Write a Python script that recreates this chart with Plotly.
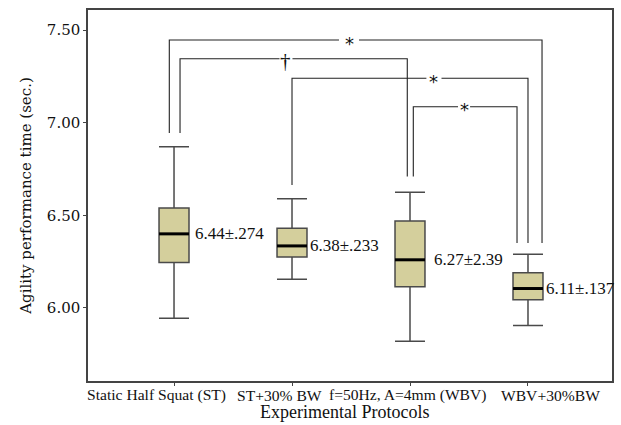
import plotly.graph_objects as go

categories = ["Static Half Squat (ST)", "ST+30% BW", "f=50Hz, A=4mm (WBV)", "WBV+30%BW"]
q1 = [6.245, 6.275, 6.115, 6.045]
median = [6.40, 6.335, 6.26, 6.105]
q3 = [6.54, 6.43, 6.47, 6.19]
lower = [5.945, 6.155, 5.82, 5.905]
upper = [6.87, 6.59, 6.625, 6.29]
labels = ["6.44±.274", "6.38±.233", "6.27±2.39", "6.11±.137"]
label_gap_px = [4, 1, 7, 1]
tick_label_shift_px = [-18, -13, -3, 23]

# significance comparisons
comp_from = [0, 0, 1, 2]
comp_to = [3, 2, 3, 3]
comp_level = [7.446, 7.345, 7.240, 7.086]
comp_symbol = ["*", "†", "*", "*"]
comp_sym_x = [1.483, 0.949, 2.203, 2.458]
comp_gap = [0.085, 0.055, 0.064, 0.051]
comp_left_off = [-0.04, 0.051, 0.0, 0.028]
comp_right_off = [0.119, -0.023, 0.0, -0.093]
comp_left_end = [6.944, 6.944, 6.664, 6.709]
comp_right_end = [6.351, 6.709, 6.351, 6.351]

xs = list(range(len(categories)))
box_w = 0.254

fig = go.Figure()
fig.add_trace(go.Box(
    x=xs, q1=q1, median=median, q3=q3, lowerfence=lower, upperfence=upper,
    width=box_w, whiskerwidth=1,
    fillcolor="#d4cf9c", line=dict(color="#4a4a4a", width=1.5),
    showlegend=False, hoverinfo="skip",
))
for i in xs:
    fig.add_shape(type="line", x0=i - box_w / 2, x1=i + box_w / 2, y0=median[i], y1=median[i],
                  line=dict(color="black", width=3))
    fig.add_annotation(x=i + box_w / 2, y=median[i], text=labels[i], showarrow=False,
                       xanchor="left", yanchor="middle", xshift=label_gap_px[i],
                       font=dict(family="Liberation Serif", size=17, color="#111111"))
    fig.add_annotation(x=i, xref="x", y=0, yref="paper", text=categories[i], showarrow=False,
                       xanchor="center", yanchor="middle", xshift=tick_label_shift_px[i], yshift=-14,
                       font=dict(family="Liberation Serif", size=15.6, color="#111111"))

fig.add_annotation(x=0.5, xref="paper", y=0, yref="paper", text="Experimental Protocols",
                   showarrow=False, xanchor="center", yanchor="middle", xshift=-6, yshift=-31,
                   font=dict(family="Liberation Serif", size=18, color="#111111"))

for k in range(len(comp_from)):
    xl = comp_from[k] + comp_left_off[k]
    xr = comp_to[k] + comp_right_off[k]
    y = comp_level[k]
    g = comp_gap[k]
    fig.add_trace(go.Scatter(
        x=[xl, xl, comp_sym_x[k] - g, None, comp_sym_x[k] + g, xr, xr],
        y=[comp_left_end[k], y, y, None, y, y, comp_right_end[k]],
        mode="lines", line=dict(color="#222222", width=1.1),
        showlegend=False, hoverinfo="skip",
    ))
    if comp_symbol[k] == "*":
        fig.add_annotation(x=comp_sym_x[k], y=y, text="*", showarrow=False,
                           yanchor="middle", yshift=-3,
                           font=dict(family="DejaVu Sans", size=18, color="#111111"))
    else:
        fig.add_annotation(x=comp_sym_x[k], y=y, text=comp_symbol[k], showarrow=False,
                           yanchor="middle", yshift=-2,
                           font=dict(family="Liberation Serif", size=21, color="#111111"))

fig.update_layout(
    width=621, height=425,
    margin=dict(l=88, r=9, t=10, b=44),
    plot_bgcolor="white", paper_bgcolor="white",
    xaxis=dict(
        range=[-0.729, 3.712], tickvals=xs, showticklabels=False,
        showgrid=False, zeroline=False, showline=True, mirror=True, automargin=False,
        linecolor="#444444", linewidth=1.5, ticks="outside", ticklen=3,
        tickcolor="#444444",
    ),
    yaxis=dict(
        range=[5.606, 7.608], tickvals=[6.0, 6.5, 7.0, 7.5],
        ticktext=["6.00", "6.50", "7.00", "7.50"],
        showgrid=False, zeroline=False, showline=True, mirror=True, automargin=False,
        linecolor="#444444", linewidth=1.5, ticks="outside", ticklen=3,
        tickcolor="#444444",
        tickfont=dict(family="DejaVu Serif", size=15, color="#111111"),
        title=dict(text="Agility performance time (sec.)", standoff=12,
                   font=dict(family="DejaVu Serif", size=15, color="#111111")),
    ),
)

fig.write_html("out.html", config={"displayModeBar": False},
               post_script="document.body.style.margin='0';")
